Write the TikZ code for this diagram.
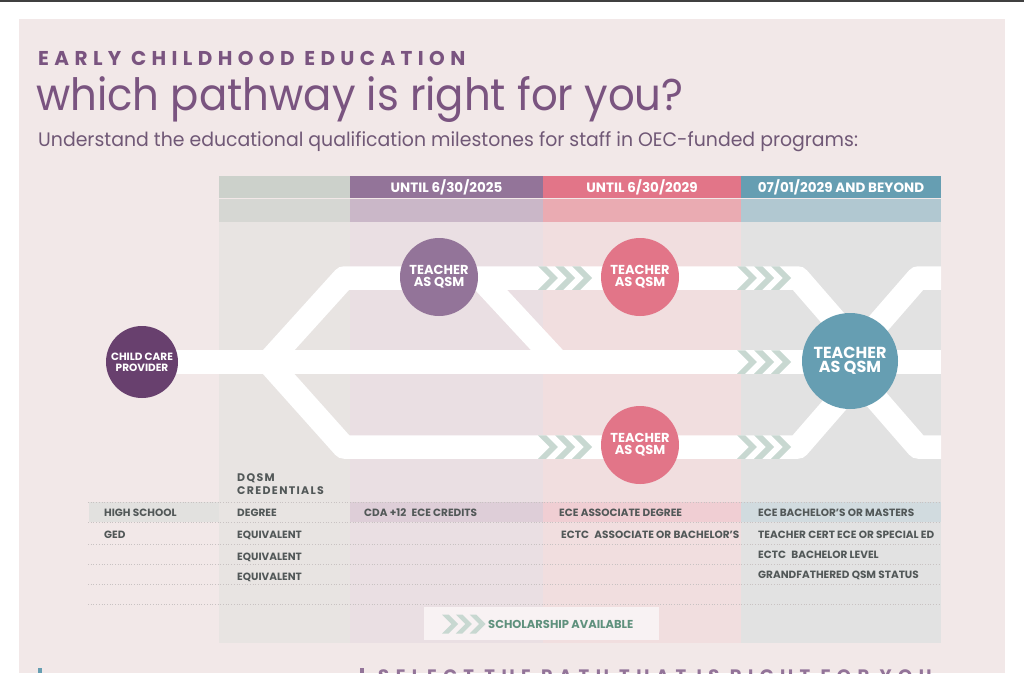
\documentclass[tikz,border=0pt]{standalone}
\usepackage{fontspec}
\setmainfont{Poppins}
\usepackage{tikz}
\usetikzlibrary{positioning}
\definecolor{panel}{RGB}{242,232,232}
\definecolor{heading}{RGB}{122,84,128}
\definecolor{subhead}{RGB}{112,88,118}
\definecolor{plum}{RGB}{104,64,110}
\definecolor{mauve}{RGB}{147,116,153}
\definecolor{rose}{RGB}{226,117,136}
\definecolor{lagoon}{RGB}{102,158,178}
\definecolor{colAhead}{RGB}{204,209,203}
\definecolor{colAband}{RGB}{214,215,211}
\definecolor{colAbody}{RGB}{232,228,226}
\definecolor{colBband}{RGB}{202,183,200}
\definecolor{colBbody}{RGB}{234,223,227}
\definecolor{colCband}{RGB}{234,171,178}
\definecolor{colCbody}{RGB}{241,222,223}
\definecolor{colDband}{RGB}{177,200,209}
\definecolor{colDbody}{RGB}{226,226,226}
\definecolor{chevgreen}{RGB}{200,216,209}
\definecolor{ink}{RGB}{82,88,88}
\definecolor{dotgray}{RGB}{200,194,194}
\definecolor{hlA}{RGB}{226,225,223}
\definecolor{hlB}{RGB}{222,206,216}
\definecolor{hlC}{RGB}{240,206,211}
\definecolor{hlD}{RGB}{209,219,223}
\definecolor{scholbg}{RGB}{248,242,243}
\definecolor{scholtxt}{RGB}{95,145,125}

% three chevrons: #1 = left x, #2 = mid y, #3 = half height
\newcommand{\chevrun}[3]{%
  \foreach \k in {0,1,2}{
    \fill[chev] ({#1+\k*1.45*#3},{#2-#3}) -- ++({0.7*#3},0) -- ++(#3,#3)
      -- ++(-#3,#3) -- ++({-0.7*#3},0) -- ++(#3,-#3) -- cycle;
  }}

\begin{document}
\begin{tikzpicture}[x=1pt, y=-1pt,
  track/.style={white, line width=23.5pt, line join=round},
  hub/.style={circle, inner sep=0pt, minimum size=78pt, text=white, align=center,
              font=\bfseries\fontsize{13}{11.8}\selectfont},
  colhead/.style={text=white, font=\bfseries\fontsize{13.5}{14}\selectfont},
  cell/.style={anchor=base west, inner sep=0pt, text=ink,
               font=\bfseries\fontsize{10.5}{11}\selectfont},
  rowline/.style={draw=dotgray, dotted, line width=0.7pt},
  chev/.style={fill=chevgreen}
]
  \useasboundingbox (0,0) rectangle (1024,673);
  \fill[white] (0,0) rectangle (1024,673);
  \fill[black!75] (0,0) rectangle (1024,1.5);
  \fill[panel] (19,19) rectangle (1005,673);

  % headings
  \node[anchor=base west, inner sep=0pt, text=heading,
        font={\bfseries\fontsize{20}{22}\selectfont\addfontfeature{LetterSpace=27}}]
    (kicker) at (38,65) {EARLY CHILDHOOD EDUCATION};
  \node[anchor=base west, inner sep=0pt, text=heading, font=\fontsize{44.5}{46}\selectfont]
    (title) at (36,110) {\scalebox{0.94}[1]{which pathway is right for you?}};
  \node[anchor=base west, inner sep=0pt, text=subhead, font=\fontsize{19.5}{21}\selectfont]
    (subtitle) at (38,146.5) {\scalebox{0.968}[1]{Understand the educational qualification milestones for staff in OEC-funded programs:}};

  % time columns
  \foreach \xa/\xb/\ch/\cb/\cy in {219/350/colAhead/colAband/colAbody,
      350/543/mauve/colBband/colBbody, 543/741/rose/colCband/colCbody,
      741/941/lagoon/colDband/colDbody}{
    \fill[\ch] (\xa,176) rectangle (\xb,198.3);
    \fill[\cb] (\xa,199.3) rectangle (\xb,222);
    \fill[\cy] (\xa,222) rectangle (\xb,643);
  }
  \node[colhead] (hdrA) at (446.5,187) {UNTIL 6/30/2025};
  \node[colhead] (hdrB) at (642,187) {UNTIL 6/30/2029};
  \node[colhead] (hdrC) at (841,187) {07/01/2029 AND BEYOND};

  % credential table
  \fill[hlA] (89,502) rectangle (219,522);
  \fill[hlB] (350,502) rectangle (543,522);
  \fill[hlC] (543,502) rectangle (741,522);
  \fill[hlD] (741,502) rectangle (941,522);
  \foreach \ry in {502,522,544,564,584,604}
    \draw[rowline] (88,\ry) -- (941,\ry);

  \node[cell, font={\bfseries\fontsize{11}{12}\selectfont\addfontfeature{LetterSpace=12}}]
    (dqsm) at (237,481.5) {DQSM};
  \node[cell, font={\bfseries\fontsize{11}{12}\selectfont\addfontfeature{LetterSpace=12}}]
    (credentials) at (237,494.5) {CREDENTIALS};
  \node[cell] (highschool) at (104,516.7) {HIGH SCHOOL};
  \node[cell] (ged) at (104,538.2) {GED};
  \node[cell] (degree) at (237,516.7) {DEGREE};
  \node[cell] (equivA) at (237,538.2) {EQUIVALENT};
  \node[cell] (equivB) at (237,560.2) {EQUIVALENT};
  \node[cell] (equivC) at (237,580) {EQUIVALENT};
  \node[cell] (cda) at (364,516.7) {CDA +12\enspace ECE CREDITS};
  \node[cell] (associate) at (559,516.7) {ECE ASSOCIATE DEGREE};
  \node[cell] (ectcA) at (561,538.7) {ECTC\enspace ASSOCIATE OR BACHELOR’S};
  \node[cell] (bachelor) at (758,516.7) {ECE BACHELOR’S OR MASTERS};
  \node[cell] (teachcert) at (758,538.7) {TEACHER CERT ECE OR SPECIAL ED};
  \node[cell] (ectcB) at (758,558.7) {ECTC\enspace BACHELOR LEVEL};
  \node[cell] (grandfather) at (758,578.7) {GRANDFATHERED QSM STATUS};

  % scholarship key
  \node[fill=scholbg, minimum width=235pt, minimum height=33pt, inner sep=0pt]
    (scholbox) at (541.5,623.5) {};
  \chevrun{442}{624}{9.5}
  \node[anchor=west, inner sep=0pt, text=scholtxt, font=\bfseries\fontsize{11.5}{12}\selectfont]
    (scholtext) at (488,624.5) {SCHOLARSHIP AVAILABLE};

  % route coordinates
  \coordinate (start) at (142,362);
  \coordinate (fork) at (268,362);
  \coordinate (mainEnd) at (941,362);
  \coordinate (upBend) at (344,278);
  \coordinate (dropTop) at (480,278);
  \coordinate (dropBot) at (558,362);
  \coordinate (xUL) at (798,278);
  \coordinate (xTop) at (858,347);
  \coordinate (xUR) at (918,278);
  \coordinate (upEnd) at (941,278);
  \coordinate (lowBend) at (344,447);
  \coordinate (xLL) at (798,447);
  \coordinate (xBot) at (858,378);
  \coordinate (xLR) at (918,447);
  \coordinate (lowEnd) at (941,447);

  \draw[track] (start) -- (mainEnd);
  \draw[track] (fork) -- (upBend) -- (xUL) -- (xTop) -- (xUR) -- (upEnd);
  \draw[track] (fork) -- (lowBend) -- (xLL) -- (xBot) -- (xLR) -- (lowEnd);
  \draw[track] (dropTop) -- (dropBot);

  \foreach \cx/\cy in {538/278, 737/278, 737/362, 538/447, 737/447}{
    \chevrun{\cx}{\cy}{11.75}
  }

  % milestones
  \node[hub, fill=plum, minimum size=72pt, font=\bfseries\fontsize{10.5}{11}\selectfont]
    (provider) at (start) {CHILD CARE\\PROVIDER};
  \node[hub, fill=mauve] (qsmEarly) at (439,277) {TEACHER\\AS QSM};
  \node[hub, fill=rose] (qsmTop) at (640,277) {TEACHER\\AS QSM};
  \node[hub, fill=rose] (qsmLow) at (640,445) {TEACHER\\AS QSM};
  \node[hub, fill=lagoon, minimum size=96pt, font=\bfseries\fontsize{16}{14.5}\selectfont]
    (qsmFinal) at (850,361) {TEACHER\\AS QSM};

  % next section, cut by the page edge
  \fill[lagoon] (38,668) rectangle (41.5,673);
  \fill[mauve] (360,668) rectangle (364,673);
  \node[anchor=base west, inner sep=0pt, text=mauve,
        font={\bfseries\fontsize{18}{20}\selectfont\addfontfeature{LetterSpace=36}}]
    (nextsection) at (378,682) {SELECT THE PATH THAT IS RIGHT FOR YOU};
\end{tikzpicture}
\end{document}
